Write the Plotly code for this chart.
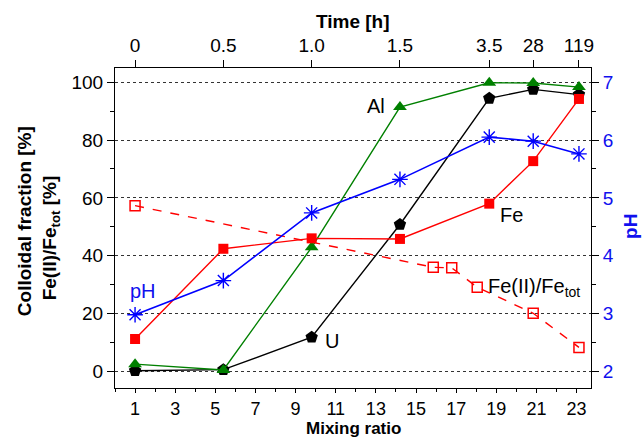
import plotly.graph_objects as go

# Sampling points (mixing ratio) and the matching elapsed time
mixing_ratio = [1, 5.4, 9.8, 14.2, 18.65, 20.84, 23.12]
time_labels = ["0", "0.5", "1.0", "1.5", "3.5", "28", "119"]

# Colloidal fractions [%]
u_frac = [0.2, 0.6, 11.8, 50.8, 94.4, 97.5, 95.7]
al_frac = [2.5, 0.5, 42.9, 91.4, 99.8, 99.7, 98.3]
fe_frac = [11.2, 42.4, 46.0, 45.8, 58.0, 72.7, 94.2]

# pH
ph = [2.98, 3.57, 4.74, 5.32, 6.05, 5.98, 5.76]

# Fe(II)/Fe_tot [%]
fe2_ratio = [1, 15.86, 16.78, 18.05, 20.84, 23.12]
fe2_frac = [57.3, 36.0, 35.8, 29.1, 20.1, 8.3]

FONT = "Liberation Sans, Arial, sans-serif"
BLUE = "#1010ee"
GREEN = "#008000"
RED = "#ff0000"

fig = go.Figure()

fig.add_trace(go.Scatter(
    x=fe2_ratio, y=fe2_frac, mode="lines+markers",
    line=dict(color=RED, width=1.4, dash="dash"),
    marker=dict(symbol="square-open", size=10, color=RED, line=dict(width=1.5)),
))
fig.add_trace(go.Scatter(
    x=mixing_ratio, y=ph, yaxis="y2", mode="lines+markers",
    line=dict(color="#0000ff", width=1.6),
    marker=dict(symbol="asterisk-open", size=13, color="#0000ff", line=dict(width=1.4, color="#0000ff")),
))
fig.add_trace(go.Scatter(
    x=mixing_ratio, y=u_frac, mode="lines+markers",
    line=dict(color="black", width=1.4),
    marker=dict(symbol="pentagon", size=13, color="black"),
))
fig.add_trace(go.Scatter(
    x=mixing_ratio, y=al_frac, mode="lines+markers",
    line=dict(color=GREEN, width=1.4),
    marker=dict(symbol="triangle-up", size=12, color=GREEN),
))
fig.add_trace(go.Scatter(
    x=mixing_ratio, y=fe_frac, mode="lines+markers",
    line=dict(color=RED, width=1.4),
    marker=dict(symbol="square", size=10, color=RED),
))
# invisible trace to activate the top time axis
fig.add_trace(go.Scatter(x=mixing_ratio, y=u_frac, xaxis="x2", mode="none",
                         hoverinfo="skip", showlegend=False))

xr = [0, 23.72]
tickfont = dict(family=FONT, size=19, color="black")
titlefont = dict(family=FONT, size=19, color="black")

fig.update_layout(
    width=643, height=439,
    margin=dict(l=115, r=52, t=68, b=51),
    paper_bgcolor="white", plot_bgcolor="white",
    showlegend=False,
    xaxis=dict(
        range=xr, tick0=1, dtick=2, ticks="outside", ticklen=4, tickwidth=1.2,
        tickcolor="black", showline=True, linecolor="black", linewidth=1.2,
        mirror=True, showgrid=False, zeroline=False,
        tickfont=dict(family=FONT, size=18, color="black"),
        automargin=False,
        minor=dict(dtick=1, tick0=0, ticks="outside", ticklen=3, tickcolor="black", tickwidth=1.2),
    ),
    xaxis2=dict(
        range=xr, overlaying="x", side="top", tickmode="array",
        tickvals=mixing_ratio, ticktext=time_labels, ticks="outside", ticklen=7,
        tickwidth=1.2, tickcolor="black", showgrid=False, zeroline=False,
        showline=False, tickfont=tickfont, automargin=False,
    ),
    yaxis=dict(
        range=[-5.74, 104.9], tick0=0, dtick=20, ticks="outside", ticklen=7,
        tickwidth=1.2, tickcolor="black", showline=True, linecolor="black",
        linewidth=1.2, mirror=True, zeroline=False, tickfont=tickfont,
        automargin=False,
        showgrid=True, gridcolor="#333333", gridwidth=1, griddash="dot",
        minor=dict(dtick=10, tick0=0, ticks="outside", ticklen=4, tickcolor="black",
                   tickwidth=1.2, showgrid=False),
    ),
    yaxis2=dict(
        range=[1.713, 7.245], overlaying="y", side="right", tick0=2, dtick=1,
        ticks="outside", ticklen=7, tickwidth=1.2, tickcolor="black",
        showline=False, showgrid=False, zeroline=False, automargin=False,
        tickfont=dict(family=FONT, size=19, color=BLUE),
        minor=dict(dtick=0.5, tick0=2, ticks="outside", ticklen=4, tickcolor="black", tickwidth=1.2),
    ),
)

# axis titles
fig.add_annotation(text="<b>Mixing ratio</b>", xref="paper", yref="paper",
                   x=0.5, y=-0.127, xanchor="center", yanchor="middle",
                   showarrow=False, font=dict(family=FONT, size=17, color="black"))
fig.add_annotation(text="<b>Time [h]</b>", xref="paper", yref="paper",
                   x=0.5, y=1.144, xanchor="center", yanchor="middle",
                   showarrow=False, font=titlefont)
fig.add_annotation(text="<b>pH</b>", xref="paper", yref="paper",
                   x=1.083, y=0.505, xanchor="center", yanchor="middle",
                   textangle=-90, showarrow=False,
                   font=dict(family=FONT, size=19, color=BLUE))
fig.add_annotation(text="<b>Colloidal fraction [%]</b>", xref="paper", yref="paper",
                   x=-0.19, y=0.52, xanchor="center", yanchor="middle",
                   textangle=-90, showarrow=False, font=titlefont)
fig.add_annotation(text="<b>Fe(II)/Fe<sub>tot</sub> [%]</b>", xref="paper", yref="paper",
                   x=-0.135, y=0.47, xanchor="center", yanchor="middle",
                   textangle=-90, showarrow=False, font=titlefont)

# series labels
lab = dict(family=FONT, size=20, color="black")
fig.add_annotation(text="Al", x=13.0, y=91.6, showarrow=False, font=lab)
fig.add_annotation(text="Fe", x=19.77, y=54.2, showarrow=False, font=lab)
fig.add_annotation(text="U", x=10.81, y=10.4, showarrow=False, font=lab)
fig.add_annotation(text="pH", x=1.4, y=27.7, showarrow=False,
                   font=dict(family=FONT, size=20, color=BLUE))
fig.add_annotation(text="Fe(II)/Fe<sub>tot</sub>", x=18.5, y=29.0, xanchor="left",
                   showarrow=False, font=lab)

fig.write_html("out.html")
